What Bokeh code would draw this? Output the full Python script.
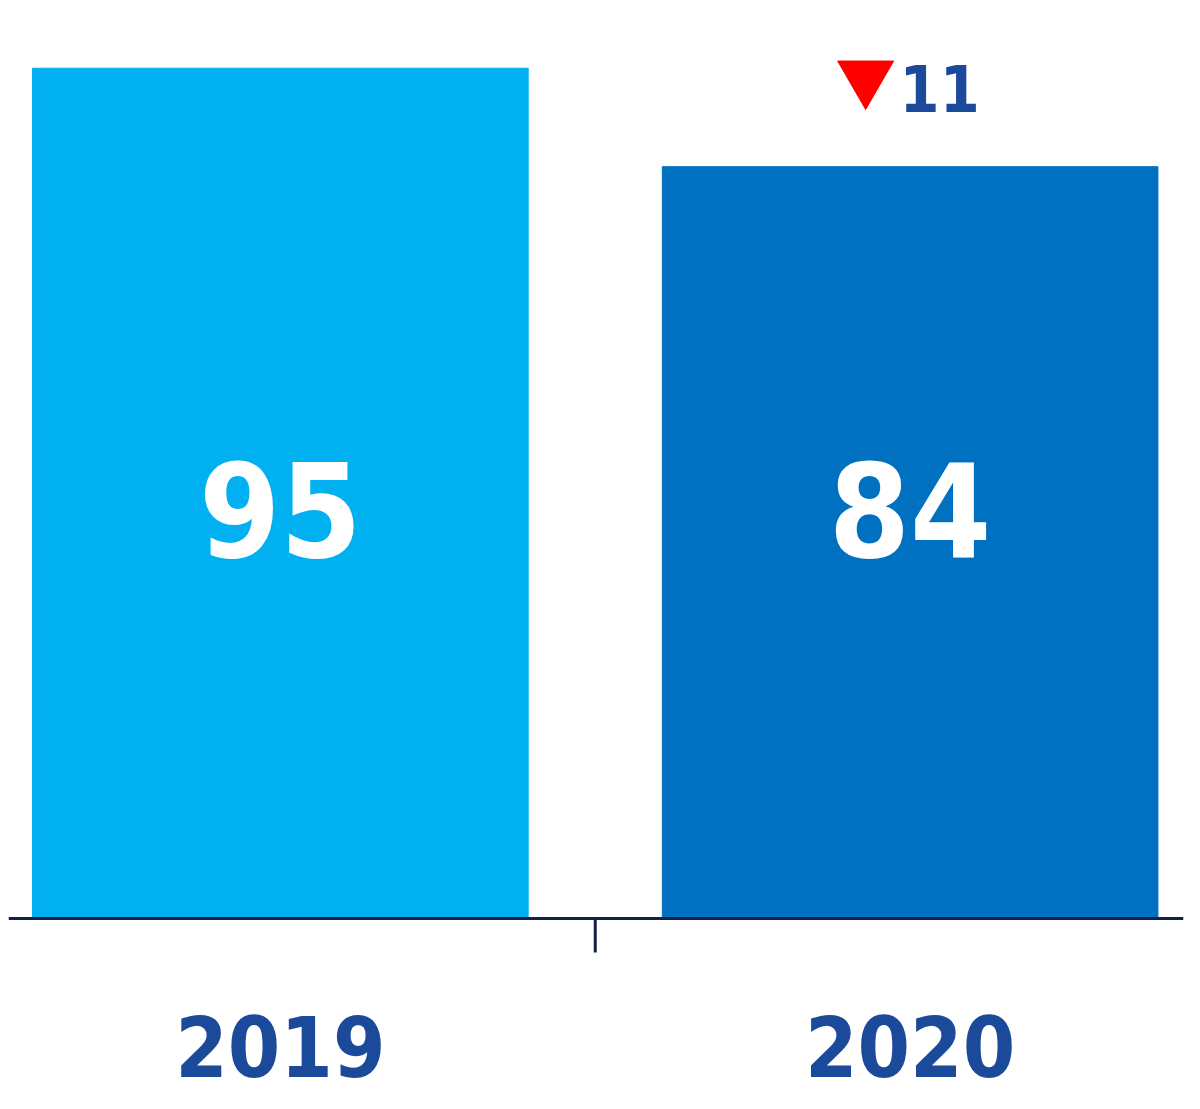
from bokeh.plotting import figure
from bokeh.models import Range1d, Span, ColumnDataSource
from bokeh.core.properties import value
from bokeh.embed import file_html
from bokeh.resources import INLINE

years = ["2019", "2020"]
values = [95, 84]
bar_colors = ["#00B0F0", "#0070C0"]

xs = [i + 0.5 for i in range(len(years))]
change = values[0] - values[1]

FONT = value("'Liberation Sans Narrow', 'Arial Narrow', 'DejaVu Sans Condensed', sans-serif")
LABEL_BLUE = "#1B4A9B"
NAVY = "#14204A"

p = figure(width=1184, height=1101, output_backend="svg", toolbar_location=None,
           x_range=Range1d(0.0683, 1.9341), y_range=Range1d(-20.45, 102.57),
           min_border_left=8, min_border_right=1, min_border_top=0, min_border_bottom=0)
p.axis.visible = False
p.grid.visible = False
p.outline_line_color = None
p.background_fill_color = "white"
p.border_fill_color = "white"

src = ColumnDataSource(dict(x=xs, top=values, color=bar_colors, year=years,
                            label=[str(v) for v in values]))
p.vbar(x="x", top="top", bottom=0, width=0.787, color="color", source=src)

# baseline axis
p.add_layout(Span(location=0, dimension="width", line_color=NAVY, line_width=3))
# separator tick between categories
p.segment(x0=[1.0], y0=[0], x1=[1.0], y1=[-3.8], line_color=NAVY, line_width=3)

# value labels inside bars
p.text(x="x", y=value(45.7), text="label", source=src, text_color="white",
       text_font=FONT, text_font_style="bold", text_font_size="130px",
       text_align="center", text_baseline="alphabetic")

# category labels
p.text(x="x", y=value(-14.2), text="year", source=src, text_color=LABEL_BLUE,
       text_font=FONT, text_font_style="bold", text_font_size="84px",
       text_align="center", text_baseline="alphabetic")

# change annotation above 2020
p.scatter(x=[xs[1] - 0.0706], y=[values[1] + 10.0], marker="inverted_triangle", size=56,
          fill_color="#FF0000", line_color="#FF0000")
p.text(x=[xs[1] - 0.0167], y=[values[1] + 8.7], text=[str(change)], text_color=LABEL_BLUE,
       text_font=FONT, text_font_style="bold", text_font_size="64px",
       text_align="left", text_baseline="alphabetic")

open("out.html", "w").write(file_html(p, INLINE))
